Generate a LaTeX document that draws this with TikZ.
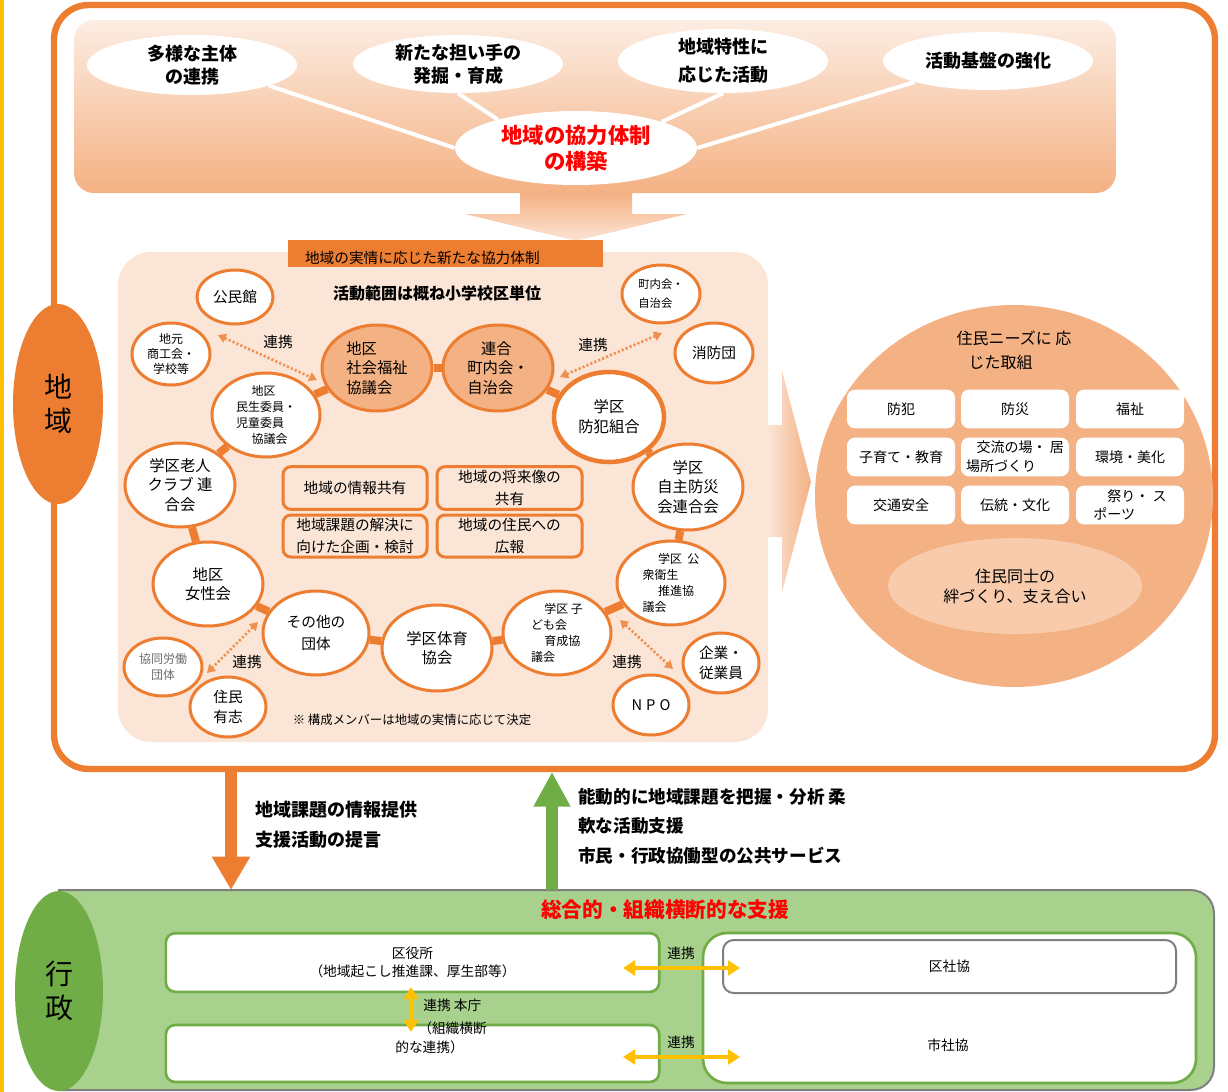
\documentclass[tikz,border=0pt]{standalone}
\usepackage{fontspec}
\setmainfont{Noto Sans CJK JP}
\usetikzlibrary{shapes.geometric,arrows.meta}
\definecolor{org}{HTML}{ED7D31}
\definecolor{peach}{HTML}{FBE5D6}
\definecolor{lor}{HTML}{F4B183}
\definecolor{mor}{HTML}{F8CBAD}
\definecolor{grn}{HTML}{70AD47}
\definecolor{lgr}{HTML}{A9D18E}
\definecolor{yel}{HTML}{FFC000}
\definecolor{gry}{HTML}{7F7F7F}
\definecolor{redt}{HTML}{FF0000}
\newcommand\fz[2]{\fontsize{#1pt}{#2pt}\selectfont}
\pgfdeclarelayer{bottom}
\pgfdeclarelayer{back}
\pgfsetlayers{bottom,back,main}
\begin{document}
\begin{tikzpicture}[x=0.75pt,y=-0.75pt,
  rc/.style 2 args={ellipse, draw=org, line width=2.25pt, fill=white, inner sep=0pt,
    minimum width=#1*1.5pt, minimum height=#2*1.5pt, align=center, font=\fz{11}{14.5}},
  sm/.style={font=\fz{9}{12}},
  te/.style 2 args={ellipse, fill=white, inner sep=0pt, minimum width=#1*1.5pt,
    minimum height=#2*1.5pt, align=center, font=\bfseries\fz{13.5}{17}},
  pb/.style={rectangle, rounded corners=6pt, draw=org, line width=2.25pt, fill=peach,
    align=center, minimum width=108pt, minimum height=32pt, inner sep=1pt, font=\fz{11}{16}},
  wb/.style={rectangle, rounded corners=6pt, fill=white, minimum width=81pt,
    minimum height=29pt, inner sep=1pt, align=center, font=\fz{10.5}{14}},
  ringline/.style={org, line width=6pt},
  dotarr/.style={draw=org!85!white, line width=2pt, dash pattern=on 1.6pt off 1.6pt,
    {Triangle[width=7pt,length=6pt]}-{Triangle[width=7pt,length=6pt]}},
  yarr/.style={draw=yel, line width=3pt,
    {Triangle[width=11pt,length=9pt]}-{Triangle[width=11pt,length=9pt]}},
  lbl/.style={font=\fz{11}{13}, inner sep=0pt},
  gb/.style={rectangle, rounded corners=7pt, draw=grn, line width=2pt, fill=white,
    minimum width=370pt, inner sep=1pt, align=center, font=\fz{10.3}{14}},
  btxt/.style={anchor=west, inner sep=0pt, font=\bfseries\fz{13.5}{16}},
  stxt/.style={anchor=west, inner sep=0pt, font=\fz{10.3}{13}}
]
\useasboundingbox (0,0) rectangle (1228,1092);

\begin{pgfonlayer}{bottom}
  \draw[yel, line width=2.4pt] (2,0) -- (2,1092);
  \draw[org, line width=4.8pt, rounded corners=26pt] (54,5) rectangle (1215,769);
  \shade[top color=peach!70!white, bottom color=lor, rounded corners=15pt] (74,20) rectangle (1116,193);
  \shade[top color=lor, bottom color=peach] (520,193) -- (632,193) -- (632,214) -- (687,214)
     -- (576,241) -- (465,214) -- (520,214) -- cycle;
  \fill[peach, rounded corners=25pt] (118,252) rectangle (768,742);
  \shade[left color=peach, right color=lor] (768,425) -- (782,425) -- (782,371) -- (811,482)
     -- (782,592) -- (782,537) -- (768,537) -- cycle;
  \draw[fill=lgr, draw=gry, line width=1.5pt] (59,890) -- (1190,890)
     .. controls (1204,890) and (1214,900) .. (1214,914) -- (1214,1066)
     .. controls (1214,1080) and (1204,1090) .. (1190,1090) -- (59,1090) -- cycle;
\end{pgfonlayer}

% ---------- top ellipses ----------
\node[te={105}{30}] (e1) at (192,65) {多様な主体\\の連携};
\node[te={105}{29}] (e2) at (458,64) {新たな担い手の\\発掘・育成};
\node[te={105}{29}, font=\bfseries\fz{13.5}{21}] (e3) at (723,61) {地域特性に\\応じた活動};
\node[te={105}{29}] (e4) at (988,61) {活動基盤の強化};
\node[te={121}{37}, text=redt, font=\bfseries\fz{16}{19.5}] (cen) at (576,148) {地域の協力体制\\の構築};
\begin{pgfonlayer}{back}
  \draw[white, line width=3pt] (e1.-15) -- (cen.west);
  \draw[white, line width=3pt] (e2.south) -- (cen.160);
  \draw[white, line width=3pt] (e3.south) -- (cen.17);
  \draw[white, line width=3pt] (e4.196) -- (cen.east);
\end{pgfonlayer}

% ---------- bar and headings ----------
\node[rectangle, fill=org, minimum width=236pt, minimum height=20pt, inner sep=0pt,
  text width=210.75pt, align=left, font=\fz{11}{13}] (bar) at (445.5,253.5)
  {\raisebox{-7.6pt}[0pt][0pt]{地域の実情に応じた新たな協力体制}};
\node[font=\bfseries\fz{12}{14}, inner sep=0pt] (scope) at (437,293) {活動範囲は概ね小学校区単位};

% ---------- ring members ----------
\node[rc={38}{27}] (kominkan) at (235,297) {公民館};
\node[rc={39}{31}, font=\fz{9}{11.5}] (jimoto) at (171,354) {地元\\商工会・\\学校等};
\node[rc={54}{42}, sm, align=left] (minsei) at (266,415)
  {\hspace*{1.3em}地区\\民生委員・\\児童委員\\\hspace*{1.3em}協議会};
\node[rc={55}{43}, fill=lor, align=left, font=\fz{11.5}{14.6}] (shafuku) at (377,368)
  {地区\\社会福祉\\協議会};
\node[rc={55}{43}, fill=lor, align=left, font=\fz{11.5}{14.6}] (rengo) at (498,368)
  {\hspace*{0.9em}連合\\町内会・\\自治会};
\node[rc={39}{29}, align=left, font=\fz{8.5}{14}] (chonai) at (661,294) {町内会・\\自治会};
\node[rc={39}{30}] (shobo) at (714,353) {消防団};
\node[rc={55}{45}, line width=3.4pt, font=\fz{11.5}{15}] (bohan) at (609,417) {学区\\防犯組合};
\node[rc={55}{43}, font=\fz{11.5}{14.6}] (jishu) at (688,487) {学区\\自主防災\\会連合会};
\node[rc={55}{42}, font=\fz{11.5}{14.6}] (rojin) at (180,485) {学区老人\\クラブ\ 連\\合会};
\node[rc={55}{42}, font=\fz{11.5}{14.6}] (josei) at (208,584) {地区\\女性会};
\node[rc={53}{42}, font=\fz{11}{16}] (sonota) at (316,633) {その他の\\団体};
\node[rc={55}{43}, font=\fz{11.5}{14.6}] (taiiku) at (437,648) {学区体育\\協会};
\node[rc={54}{42}, sm, align=left] (kodomo) at (557,633)
  {\hspace*{1.1em}学区\ 子\\ども会\\\hspace*{1.1em}育成協\\議会};
\node[rc={54}{42}, sm, align=left] (eisei) at (671,583)
  {\hspace*{1.3em}学区\ \ 公\\衆衛生\\\hspace*{1.3em}推進協\\議会};
\node[rc={39}{29}, font=\fz{9}{11.5}, text=gry!85!black] (kyodo) at (163,667) {協同労働\\団体};
\node[rc={38}{30}, font=\fz{11}{14.5}] (jumin) at (228,707) {住民\\有志};
\node[rc={38}{30}, font=\fz{11}{15}] (kigyo) at (721,663) {企業・\\従業員};
\node[rc={38}{30}] (npo) at (651,705) {N\hspace{3pt}P\hspace{3pt}O};

\begin{pgfonlayer}{back}
  \draw[ringline] (minsei) -- (shafuku);
  \draw[ringline] (shafuku) -- (rengo);
  \draw[ringline] (rengo) -- (bohan);
  \draw[ringline] (bohan) -- (jishu);
  \draw[ringline] (jishu) -- (eisei);
  \draw[ringline] (eisei) -- (kodomo);
  \draw[ringline] (kodomo) -- (taiiku);
  \draw[ringline] (taiiku) -- (sonota);
  \draw[ringline] (sonota) -- (josei);
  \draw[ringline] (josei) -- (rojin);
  \draw[ringline] (rojin) -- (minsei);
\end{pgfonlayer}

% ---------- dotted links ----------
\coordinate (d1a) at (218,335); \coordinate (d1b) at (317,380);
\coordinate (d2a) at (560,377); \coordinate (d2b) at (662,333);
\coordinate (d3a) at (258,622); \coordinate (d3b) at (207,673);
\coordinate (d4a) at (620,620); \coordinate (d4b) at (673,669);
\draw[dotarr] (d1a) -- (d1b);
\draw[dotarr] (d2a) -- (d2b);
\draw[dotarr] (d3a) -- (d3b);
\draw[dotarr] (d4a) -- (d4b);
\node[lbl] (l1) at (278,342) {連携};
\node[lbl] (l2) at (593,345) {連携};
\node[lbl] (l3) at (247,662) {連携};
\node[lbl] (l4) at (627,662) {連携};

% ---------- central boxes ----------
\node[pb] (joho) at (355,488) {地域の情報共有};
\node[pb, minimum width=108.75pt] (shorai) at (509.5,488) {地域の将来像の\\共有};
\node[pb, minimum height=31.5pt] (kadai) at (355,536) {地域課題の解決に\\向けた企画・検討};
\node[pb, minimum width=108.75pt, minimum height=31.5pt] (koho) at (509.5,536) {地域の住民への\\広報};
\node[inner sep=0pt, font=\fz{9.3}{11}] (note) at (412,720) {※ 構成メンバーは地域の実情に応じて決定};

% ---------- big circle ----------
\node[ellipse, fill=lor, inner sep=0pt, minimum width=298.5pt, minimum height=286.5pt] (bigc) at (1014,496) {};
\node[align=left, inner sep=0pt, font=\fz{12}{18}] (needs) at (1014,350) {住民ニーズに 応\\\hspace*{0.75em}じた取組};
\node[wb] (g11) at (901,409) {防犯};
\node[wb] (g12) at (1015,409) {防災};
\node[wb] (g13) at (1130,409) {福祉};
\node[wb] (g21) at (901,457) {子育て・教育};
\node[wb, align=left] (g22) at (1015,457) {\hspace*{0.75em}交流の場・ 居\\場所づくり};
\node[wb] (g23) at (1130,457) {環境・美化};
\node[wb] (g31) at (901,505) {交通安全};
\node[wb] (g32) at (1015,505) {伝統・文化};
\node[wb, align=left] (g33) at (1130,505) {\hspace*{1em}祭り・ ス\\ポーツ};
\node[ellipse, fill=mor, inner sep=0pt, minimum width=190.5pt, minimum height=72pt,
  align=center, font=\fz{12}{15}] (kizuna) at (1015,586) {住民同士の\\絆づくり、支え合い};

% ---------- side ellipses ----------
\node[ellipse, fill=org, inner sep=0pt, minimum width=67.5pt, minimum height=150pt,
  align=center, font=\fz{21}{25}] (chiiki) at (58,404) {地\\域};

% ---------- arrows between sections ----------
\coordinate (da1) at (231,771); \coordinate (da2) at (231,890);
\coordinate (ga1) at (552,890); \coordinate (ga2) at (552,772);
\draw[org, line width=9pt, -{Triangle[width=27pt,length=25pt]}] (da1) -- (da2);
\draw[grn, line width=8.5pt, -{Triangle[width=26pt,length=26pt]}] (ga1) -- (ga2);
\node[btxt] (t1) at (255,810) {地域課題の情報提供};
\node[btxt] (t2) at (255,840) {支援活動の提言};
\node[btxt, font=\bfseries\fz{13.2}{16}] (t3) at (578,797) {能動的に地域課題を把握・分析 柔};
\node[btxt, font=\bfseries\fz{13.2}{16}] (t4) at (578,826) {軟な活動支援};
\node[btxt, font=\bfseries\fz{13.2}{16}] (t5) at (578,856) {市民・行政協働型の公共サービス};

% ---------- administration ----------
\node[ellipse, fill=grn, inner sep=0pt, minimum width=66pt, minimum height=150pt,
  align=center, font=\fz{21}{25}] (gyosei) at (59,991) {行\\政};
\node[text=redt, inner sep=0pt, font=\bfseries\fz{15.5}{18}] (sogo) at (665,910) {総合的・組織横断的な支援};
\node[gb, minimum height=44pt] (kuyaku) at (412.5,962.5) {区役所\\（地域起こし推進課、厚生部等）};
\node[gb, minimum height=42.75pt] (honcho) at (412.5,1053.5) {};
\node[stxt] (h1) at (423,1005) {連携 本庁};
\node[stxt] (h2) at (418,1028) {（組織横断};
\node[stxt] (h3) at (395,1047) {的な連携）};
\node[rectangle, rounded corners=18pt, draw=grn, line width=2pt, fill=white,
  minimum width=369.75pt, minimum height=112.5pt] (shakyo) at (949.5,1008) {};
\node[rectangle, rounded corners=8pt, draw=gry, line width=1.5pt, fill=white,
  minimum width=339.75pt, minimum height=39.75pt, font=\fz{10.3}{13}] (kushakyo) at (949.5,966.5) {区社協};
\node[inner sep=0pt, font=\fz{10.3}{13}] (shishakyo) at (948,1045) {市社協};
\coordinate (ya1) at (623,968); \coordinate (ya2) at (740,968);
\coordinate (yb1) at (623,1057); \coordinate (yb2) at (740,1057);
\coordinate (yc1) at (411,987); \coordinate (yc2) at (411,1032);
\draw[yarr] (ya1) -- (ya2);
\draw[yarr] (yb1) -- (yb2);
\draw[yarr] (yc1) -- (yc2);
\node[stxt, anchor=center] (r1) at (681,953) {連携};
\node[stxt, anchor=center] (r2) at (681,1042) {連携};
\end{tikzpicture}
\end{document}
